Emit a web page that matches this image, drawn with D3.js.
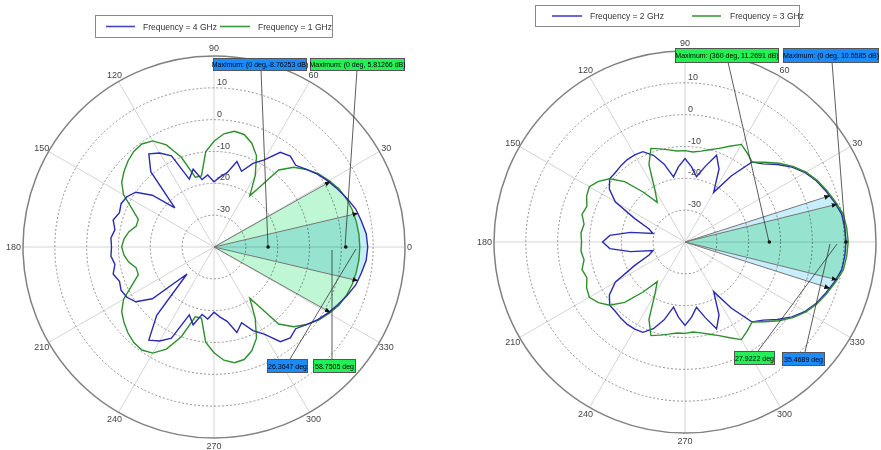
<!DOCTYPE html>
<html><head><meta charset="utf-8">
<script src="https://cdn.jsdelivr.net/npm/d3@7"></script>
<style>
body{margin:0;background:#fff}
svg{display:block;font-family:"Liberation Sans",Arial,sans-serif}
</style>
</head><body>
<svg id="c" width="881" height="450"></svg>
<script>
// ---------------- data ----------------
const angles = d3.range(0, 360, 5);            // degrees, counter-clockwise from 0 (east)
const angleTicks = [0,30,60,90,120,150,180,210,240,270,300,330];
const radialTicks = [-30,-20,-10,0,10];
const radialDomain = [-40, 20];

// left chart (dB)
const leftBlue4GHz = [8.3,8.0,7.0,6.1,4.5,2.9,1.4,-0.2,-2.1,-3.7,-2.7,-3.7,-8.4,-11,-14.7,-12.2,-16.3,-17.9,-19.5,-17.3,-18.5,-14.7,-17.3,-8.4,-5.9,-4.3,-9.1,-22.6,-14.7,-10,-8.4,-7.8,-8.4,-7.2,-8.4,-7.5,-7.8,
 -7.5,-8.4,-7.2,-8.4,-7.8,-8.4,-10,-14.7,-28,-12,-4.3,-5.9,-8.4,-17.3,-14.7,-18.5,-17.3,-19.5,-17.9,-16.3,-12.2,-14.7,-11,-8.4,-3.7,-2.7,-3.7,-2.1,-0.2,1.4,2.9,4.5,6.1,7.0,8.0];
const leftGreen1GHz = [5.8,5.7,5.4,5.0,4.3,3.3,1.7,0.1,-2.1,-4.6,-8.4,-20.4,-14.1,-8.4,-5.3,-3.4,-3.1,-4.3,-6.8,-10,-17.3,-17.3,-10,-4.6,-1.5,-0.5,-0.8,-1.8,-3.1,-4.6,-7.2,-11.6,-14.7,-14.7,-12.8,-11.6,-11,
 -11.6,-12.8,-14.7,-14.7,-11.6,-7.2,-4.6,-3.1,-1.8,-0.8,-0.5,-1.5,-4.6,-10,-17.3,-17.3,-10,-6.8,-4.3,-3.1,-3.4,-5.3,-8.4,-14.1,-20.4,-8.4,-4.6,-2.1,0.1,1.7,3.3,4.3,5.0,5.4,5.7];
// right chart (dB)
const rightBlue2GHz = [10.56,10.4,10.0,8.6,7.0,5.5,3.6,1.0,-2.1,-5.3,-7.2,-14.7,-22,-14.7,-11,-15.4,-19.2,-16.3,-13.8,-16.3,-19.2,-14.7,-11,-8.7,-8.4,-8.4,-8.7,-9.1,-9.1,-11,-14.7,-22.6,-28,-29.6,-22.6,-16.3,-14.1,
 -16.3,-22.6,-29.6,-28,-22.6,-14.7,-11,-9.1,-9.1,-8.7,-8.4,-8.4,-8.7,-11,-14.7,-19.2,-16.3,-13.8,-16.3,-19.2,-15.4,-11,-14.7,-22,-14.7,-7.2,-5.3,-2.1,1.0,3.6,5.5,7.0,8.6,10.0,10.4];
const rightGreen3GHz = [11.27,11.0,10.5,8.9,7.4,5.8,3.9,1.4,-1.5,-4.6,-7.2,-5.9,-4.6,-6.8,-8.7,-10,-11,-11.6,-11.3,-11.3,-10.6,-9.7,-8.7,-13.2,-21.1,-24.8,-19.5,-13.2,-9.1,-6.8,-5.3,-5.9,-7.2,-6.5,-7.8,-7.2,-7.5,
 -7.2,-7.8,-6.5,-7.2,-5.9,-5.3,-6.8,-9.1,-13.2,-19.5,-24.8,-21.1,-13.2,-8.7,-9.7,-10.6,-11.3,-11.3,-11.6,-11,-10,-8.7,-6.8,-4.6,-5.9,-7.2,-4.6,-1.5,1.4,3.9,5.8,7.4,8.9,10.5,11.0];

const leftLegend = ["Frequency = 4 GHz", "Frequency = 1 GHz"];
const rightLegend = ["Frequency = 2 GHz", "Frequency = 3 GHz"];
const leftBeamwidths = [26.3647, 58.7505];   // blue, green
const rightBeamwidths = [35.4689, 27.9222];  // blue, green
const leftMaxText = ["Maximum: (0 deg,-8.76253 dB)", "Maximum: (0 deg, 5.81266 dB)"];
const rightMaxText = ["Maximum: (0 deg, 10.5585 dB)", "Maximum: (360 deg, 11.2691 dB)"];
const leftMarkerDb = [-23, 1.4];     // blue, green marker on the 0 deg axis
const rightMarkerDb = [10.56, -13.5];

// ---------------- style ----------------
const BLUE = "#2b2bb0", GREEN = "#2f8f2f";
const BLUE_FILL = "#c8edfb", GREEN_FILL = "#bff6d4";
const BLUE_BOX = "#1a8cff", GREEN_BOX = "#22f055";

const svg = d3.select("#c");
const defs = svg.append("defs");
defs.append("marker").attr("id","arr").attr("viewBox","0 0 10 10").attr("refX",9).attr("refY",5)
  .attr("markerWidth",6).attr("markerHeight",6).attr("orient","auto")
  .append("path").attr("d","M0,1L10,5L0,9Z").attr("fill","#111");

function drawChart(o){
  const g = svg.append("g").attr("transform",`translate(${o.cx},${o.cy})`);
  const r = d3.scaleLinear().domain(radialDomain).range([0,o.R]);
  const rad = a => a*Math.PI/180;
  const pt = (a,db) => [r(db)*Math.cos(rad(a)), -r(db)*Math.sin(rad(a))];

  g.selectAll(".spoke").data(angleTicks).join("line")
    .attr("x1",0).attr("y1",0)
    .attr("x2",a=>o.R*Math.cos(rad(a))).attr("y2",a=>-o.R*Math.sin(rad(a)))
    .attr("stroke","#d4d4d4").attr("stroke-width",1);
  g.selectAll(".rc").data(radialTicks).join("circle")
    .attr("r",d=>r(d)).attr("fill","none").attr("stroke","#7a7a7a")
    .attr("stroke-width",0.8).attr("stroke-dasharray","2,2");
  g.append("circle").attr("r",r(radialDomain[1])).attr("fill","none").attr("stroke","#808080").attr("stroke-width",1.5);

  g.selectAll(".rl").data(radialTicks).join("text")
    .attr("x",3).attr("y",d=>-r(d)-3)
    .attr("font-size",9).attr("fill","#444").text(d=>d);
  g.selectAll(".al").data(angleTicks.filter(a=>o.cx + (o.R+12)*Math.cos(rad(a)) < 878)).join("text")
    .each(function(a){
      const c = Math.cos(rad(a)), s = Math.sin(rad(a));
      const el = d3.select(this);
      let rr = o.R+8, anchor="middle";
      if (Math.abs(c)>0.99){ rr = o.R+2; anchor = c>0?"start":"end"; }
      el.attr("x", rr*c).attr("y", -rr*s + 3).attr("text-anchor",anchor);
    })
    .attr("font-size",9).attr("fill","#444").text(a=>a);

  const line = d3.lineRadial().angle(d=>rad(90-d[0])).radius(d=>r(d[1])).curve(d3.curveLinearClosed);

  function valAt(vals, a){
    a = ((a%360)+360)%360;
    const i = Math.floor(a/5), f = (a-i*5)/5;
    return vals[i%72]*(1-f) + vals[(i+1)%72]*f;
  }
  function wedge(vals, bw){
    const h = bw/2, pts = [[0,0]];
    const inner = angles.map(a=>a>180?a-360:a).filter(a=>a>-h && a<h).sort((a,b)=>a-b);
    [-h, ...inner, h].forEach(a=>pts.push(pt(a, valAt(vals,a))));
    return pts;
  }
  o.series.forEach(s=>{
    g.append("path").attr("d", "M"+wedge(s.vals,s.bw).join("L")+"Z")
      .attr("fill", s.fill).style("mix-blend-mode","multiply");
  });
  o.series.forEach(s=>{
    g.append("path").attr("d", line(angles.map((a,i)=>[a,s.vals[i]])))
      .attr("fill","none").attr("stroke",s.color).attr("stroke-width",1.4);
  });
  o.series.forEach(s=>{
    [-s.bw/2, s.bw/2].forEach(a=>{
      const p = pt(a, valAt(s.vals,a));
      g.append("line").attr("x1",0).attr("y1",0).attr("x2",p[0]).attr("y2",p[1])
        .attr("stroke","#777").attr("stroke-width",1).attr("marker-end","url(#arr)");
    });
  });
  const ann = svg.append("g");
  o.boxes.forEach(b=>{
    ann.append("line").attr("x1",b.lx1).attr("y1",b.ly1).attr("x2",b.lx2).attr("y2",b.ly2)
      .attr("stroke","#333").attr("stroke-width",0.8);
  });
  o.markers.forEach(m=>{
    const p = pt(0,m);
    ann.append("circle").attr("cx",o.cx+p[0]).attr("cy",o.cy+p[1]).attr("r",1.8).attr("fill","#111");
  });
  o.boxes.forEach(b=>{
    ann.append("rect").attr("x",b.x+0.5).attr("y",b.y+0.5).attr("width",b.w).attr("height",b.h)
      .attr("fill",b.fill).attr("stroke","#555").attr("stroke-width",1);
    ann.append("text").attr("x",b.x+b.w/2+0.5).attr("y",b.y+b.h/2+3).attr("text-anchor","middle")
      .attr("font-size",7).attr("fill","#000").text(b.text);
  });
}

function legend(x,y,w,h,items){
  const g = svg.append("g");
  g.append("rect").attr("x",x+0.5).attr("y",y+0.5).attr("width",w).attr("height",h)
    .attr("fill","#fff").attr("stroke","#8a8a8a");
  items.forEach(it=>{
    g.append("line").attr("x1",it.x1).attr("x2",it.x2).attr("y1",y+h/2+0.5).attr("y2",y+h/2+0.5)
      .attr("stroke",it.color).attr("stroke-width",1.6);
    g.append("text").attr("x",it.tx).attr("y",y+h/2+3.5).attr("font-size",8.5).attr("fill","#333").text(it.text);
  });
}

drawChart({cx:214, cy:247, R:191,
  series:[{vals:leftGreen1GHz,color:GREEN,fill:GREEN_FILL,bw:leftBeamwidths[1]},
          {vals:leftBlue4GHz,color:BLUE,fill:BLUE_FILL,bw:leftBeamwidths[0]}],
  markers: leftMarkerDb,
  boxes:[
    {x:213,y:58,w:93,h:12,fill:BLUE_BOX,text:leftMaxText[0],lx1:261,ly1:70,lx2:268,ly2:247},
    {x:310,y:58,w:94,h:12,fill:GREEN_BOX,text:leftMaxText[1],lx1:357,ly1:70,lx2:345,ly2:247},
    {x:267,y:359,w:40,h:13,fill:BLUE_BOX,text:leftBeamwidths[0]+" deg",lx1:290,ly1:359,lx2:356,ly2:249},
    {x:313,y:359,w:42,h:13,fill:GREEN_BOX,text:leftBeamwidths[1]+" deg",lx1:332,ly1:359,lx2:332,ly2:250}
  ]});
drawChart({cx:685, cy:242, R:191,
  series:[{vals:rightBlue2GHz,color:BLUE,fill:BLUE_FILL,bw:rightBeamwidths[0]},
          {vals:rightGreen3GHz,color:GREEN,fill:GREEN_FILL,bw:rightBeamwidths[1]}],
  markers: rightMarkerDb,
  boxes:[
    {x:675,y:48,w:103,h:14,fill:GREEN_BOX,text:rightMaxText[1],lx1:728,ly1:62,lx2:769,ly2:242},
    {x:783,y:48,w:95,h:14,fill:BLUE_BOX,text:rightMaxText[0],lx1:832,ly1:62,lx2:846,ly2:242},
    {x:734,y:351,w:40,h:13,fill:GREEN_BOX,text:rightBeamwidths[1]+" deg",lx1:758,ly1:351,lx2:837,ly2:244},
    {x:782,y:352,w:42,h:13,fill:BLUE_BOX,text:rightBeamwidths[0]+" deg",lx1:805,ly1:352,lx2:830,ly2:244}
  ]});

legend(95,15,237,22,[
  {x1:106,x2:135,color:"#4545c8",tx:143,text:leftLegend[0]},
  {x1:220,x2:250,color:"#3a9a3a",tx:258,text:leftLegend[1]}]);
legend(535,5,264,21,[
  {x1:552,x2:582,color:"#4545c8",tx:590,text:rightLegend[0]},
  {x1:692,x2:721,color:"#3a9a3a",tx:730,text:rightLegend[1]}]);
</script>
</body></html>
